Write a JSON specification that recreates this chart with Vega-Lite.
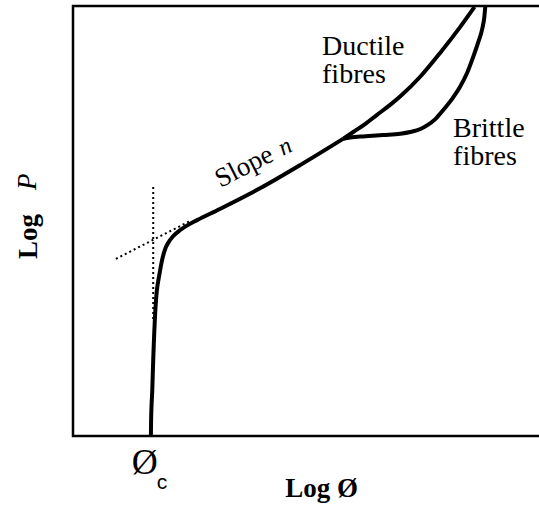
{
  "$schema": "https://vega.github.io/schema/vega-lite/v6.json",
  "width": 471,
  "height": 430,
  "autosize": "none",
  "padding": {"left": 73, "top": 6, "right": 0, "bottom": 69},
  "background": "white",
  "config": {"view": {"stroke": "black", "strokeWidth": 2.5}, "font": "Liberation Serif"},
  "datasets": {
    "curves": [
      {"series": "main", "order": 1, "x": 16.7, "y": 0},
      {"series": "main", "order": 2, "x": 16.75, "y": 3.7},
      {"series": "main", "order": 3, "x": 17.0, "y": 10.7},
      {"series": "main", "order": 4, "x": 17.2, "y": 17.7},
      {"series": "main", "order": 5, "x": 17.4, "y": 23.5},
      {"series": "main", "order": 6, "x": 17.6, "y": 28.1},
      {"series": "main", "order": 7, "x": 17.8, "y": 31.6},
      {"series": "main", "order": 8, "x": 18.0, "y": 34.0},
      {"series": "main", "order": 9, "x": 18.5, "y": 37.4},
      {"series": "main", "order": 10, "x": 19.1, "y": 40.9},
      {"series": "main", "order": 11, "x": 19.7, "y": 43.3},
      {"series": "main", "order": 12, "x": 20.4, "y": 44.9},
      {"series": "main", "order": 13, "x": 21.5, "y": 46.5},
      {"series": "main", "order": 14, "x": 23.0, "y": 47.9},
      {"series": "main", "order": 15, "x": 24.7, "y": 49.1},
      {"series": "main", "order": 16, "x": 26.6, "y": 50.2},
      {"series": "main", "order": 17, "x": 31.5, "y": 52.8},
      {"series": "main", "order": 18, "x": 40.1, "y": 57.6},
      {"series": "main", "order": 19, "x": 48.7, "y": 63.0},
      {"series": "main", "order": 20, "x": 57.9, "y": 69.1},
      {"series": "ductile", "order": 1, "x": 57.9, "y": 69.1},
      {"series": "ductile", "order": 2, "x": 60.1, "y": 70.7},
      {"series": "ductile", "order": 3, "x": 62.7, "y": 72.6},
      {"series": "ductile", "order": 4, "x": 65.2, "y": 74.7},
      {"series": "ductile", "order": 5, "x": 68.0, "y": 77.0},
      {"series": "ductile", "order": 6, "x": 70.2, "y": 79.0},
      {"series": "ductile", "order": 7, "x": 74.5, "y": 83.6},
      {"series": "ductile", "order": 8, "x": 78.8, "y": 89.2},
      {"series": "ductile", "order": 9, "x": 83.0, "y": 95.1},
      {"series": "ductile", "order": 10, "x": 86.1, "y": 99.8},
      {"series": "brittle", "order": 1, "x": 57.9, "y": 69.1},
      {"series": "brittle", "order": 2, "x": 59.4, "y": 69.4},
      {"series": "brittle", "order": 3, "x": 62.7, "y": 69.7},
      {"series": "brittle", "order": 4, "x": 66.5, "y": 70.0},
      {"series": "brittle", "order": 5, "x": 70.2, "y": 70.3},
      {"series": "brittle", "order": 6, "x": 72.3, "y": 70.7},
      {"series": "brittle", "order": 7, "x": 74.5, "y": 71.4},
      {"series": "brittle", "order": 8, "x": 76.0, "y": 72.3},
      {"series": "brittle", "order": 9, "x": 77.7, "y": 73.7},
      {"series": "brittle", "order": 10, "x": 79.4, "y": 75.8},
      {"series": "brittle", "order": 11, "x": 81.3, "y": 78.4},
      {"series": "brittle", "order": 12, "x": 83.0, "y": 81.2},
      {"series": "brittle", "order": 13, "x": 84.5, "y": 84.4},
      {"series": "brittle", "order": 14, "x": 85.8, "y": 88.1},
      {"series": "brittle", "order": 15, "x": 86.9, "y": 91.6},
      {"series": "brittle", "order": 16, "x": 87.8, "y": 94.9},
      {"series": "brittle", "order": 17, "x": 88.2, "y": 97.4},
      {"series": "brittle", "order": 18, "x": 88.4, "y": 99.8}
    ],
    "guides": [
      {"series": "vertical", "order": 1, "x": 17.2, "y": 57.9},
      {"series": "vertical", "order": 2, "x": 17.2, "y": 27.0},
      {"series": "tangent", "order": 1, "x": 9.2, "y": 41.2},
      {"series": "tangent", "order": 2, "x": 25.1, "y": 50.0}
    ],
    "labels": [
      {"text": "Ductile", "x": 53.4, "y": 88.6},
      {"text": "fibres", "x": 53.4, "y": 82.1},
      {"text": "Brittle", "x": 81.5, "y": 69.5},
      {"text": "fibres", "x": 81.5, "y": 63.0}
    ]
  },
  "layer": [
    {
      "data": {"name": "curves"},
      "mark": {"type": "line", "color": "black", "strokeWidth": 4, "interpolate": "monotone", "strokeCap": "butt", "strokeJoin": "round"},
      "encoding": {
        "x": {"field": "x", "type": "quantitative", "scale": {"domain": [0, 101], "nice": false, "zero": false},
          "axis": {"labels": false, "ticks": false, "domain": false, "grid": false, "title": "Log Ø", "titleFont": "Liberation Serif", "titleFontSize": 27, "titleFontWeight": "bold", "titleColor": "black", "titleX": 248, "titleY": 52, "titleBaseline": "middle", "titleAlign": "center"}},
        "y": {"field": "y", "type": "quantitative", "scale": {"domain": [0, 100], "nice": false, "zero": false},
          "axis": {"labels": false, "ticks": false, "domain": false, "grid": false, "title": "Log", "titleFont": "Liberation Serif", "titleFontSize": 27, "titleFontWeight": "bold", "titleColor": "black", "titleX": -45, "titleY": 230, "titleAngle": -90, "titleBaseline": "middle", "titleAlign": "center"}},
        "detail": {"field": "series"},
        "order": {"field": "order", "type": "quantitative"}
      }
    },
    {
      "data": {"name": "guides"},
      "mark": {"type": "line", "color": "black", "strokeWidth": 2, "strokeDash": [2, 3]},
      "encoding": {
        "x": {"field": "x", "type": "quantitative"},
        "y": {"field": "y", "type": "quantitative"},
        "detail": {"field": "series"},
        "order": {"field": "order", "type": "quantitative"}
      }
    },
    {
      "data": {"name": "labels"},
      "mark": {"type": "text", "font": "Liberation Serif", "fontSize": 28, "align": "left", "baseline": "alphabetic", "color": "black"},
      "encoding": {
        "x": {"field": "x", "type": "quantitative"},
        "y": {"field": "y", "type": "quantitative"},
        "text": {"field": "text"}
      }
    },
    {
      "data": {"values": [{"text": "Slope", "x": 36.7, "y": 62.6}]},
      "mark": {"type": "text", "font": "Liberation Serif", "fontSize": 27, "align": "center", "baseline": "middle", "angle": -27, "color": "black"},
      "encoding": {
        "x": {"field": "x", "type": "quantitative"},
        "y": {"field": "y", "type": "quantitative"},
        "text": {"field": "text"}
      }
    },
    {
      "data": {"values": [{"text": "n", "x": 45.5, "y": 67.2}]},
      "mark": {"type": "text", "font": "Liberation Serif", "fontStyle": "italic", "fontSize": 24, "align": "center", "baseline": "middle", "angle": -27, "color": "black"},
      "encoding": {
        "x": {"field": "x", "type": "quantitative"},
        "y": {"field": "y", "type": "quantitative"},
        "text": {"field": "text"}
      }
    },
    {
      "data": {"values": [{"text": "P", "x": -9.6, "y": 59.1}]},
      "mark": {"type": "text", "font": "Liberation Serif", "fontStyle": "italic", "fontSize": 27, "align": "center", "baseline": "middle", "angle": -90, "color": "black"},
      "encoding": {
        "x": {"field": "x", "type": "quantitative"},
        "y": {"field": "y", "type": "quantitative"},
        "text": {"field": "text"}
      }
    },
    {
      "data": {"values": [{"text": "Ø", "x": 15.4, "y": -6.3}]},
      "mark": {"type": "text", "font": "Liberation Serif", "fontSize": 36, "align": "center", "baseline": "middle", "color": "black"},
      "encoding": {
        "x": {"field": "x", "type": "quantitative"},
        "y": {"field": "y", "type": "quantitative"},
        "text": {"field": "text"}
      }
    },
    {
      "data": {"values": [{"text": "c", "x": 19.1, "y": -10.9}]},
      "mark": {"type": "text", "font": "Liberation Sans", "fontSize": 21, "align": "center", "baseline": "middle", "color": "black"},
      "encoding": {
        "x": {"field": "x", "type": "quantitative"},
        "y": {"field": "y", "type": "quantitative"},
        "text": {"field": "text"}
      }
    }
  ]
}
